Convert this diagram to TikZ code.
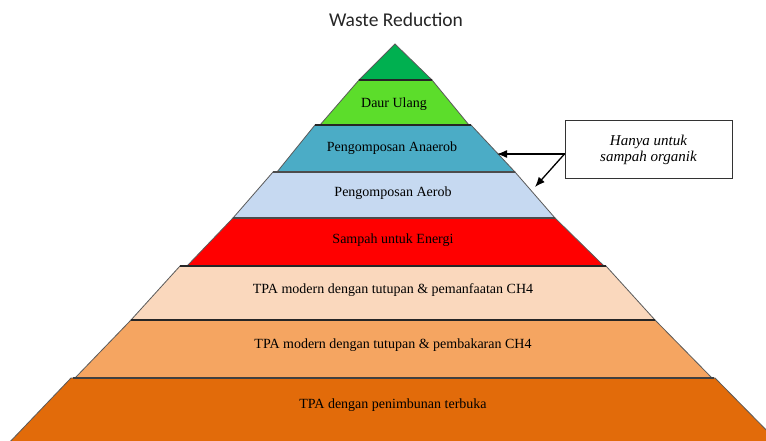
\documentclass[tikz,border=0pt]{standalone}
\usepackage{fontspec}
\setmainfont{Liberation Serif}
\newfontfamily\titlefont{Carlito}
\usetikzlibrary{arrows.meta}

\definecolor{tipgreen}{HTML}{00B050}
\definecolor{limegreen}{HTML}{5CDD2B}
\definecolor{aquablue}{HTML}{4BACC6}
\definecolor{paleblue}{HTML}{C6D9F1}
\definecolor{pureRed}{HTML}{FF0000}
\definecolor{peach}{HTML}{FAD8BD}
\definecolor{lightorange}{HTML}{F5A561}
\definecolor{darkorange}{HTML}{E26B0A}
\definecolor{edgegray}{HTML}{5A5A5A}

\tikzset{
  tier/.style={draw=edgegray, line width=0.8pt, line join=miter},
  sep/.style={draw=black!85, line width=1.1pt},
  lbl/.style={font=\fontsize{14}{16}\selectfont, text=black, inner sep=0pt},
  callout/.style={draw=black!80, line width=1pt, fill=white, align=center,
    minimum width=167pt, minimum height=58pt, inner sep=0pt,
    font=\fontsize{15}{15.5}\selectfont\itshape},
  pointer/.style={-{Latex[length=10pt,width=8pt]}, line width=1.3pt, draw=black}
}

\begin{document}
\begin{tikzpicture}[x=1pt, y=-1pt]
  \useasboundingbox (0,0) rectangle (766,441);
  \clip (0,0) rectangle (766,441);
  \fill[white] (0,0) rectangle (766,441);

  % heading
  \node[font=\titlefont\fontsize{19.5}{22}\selectfont, text=black!85] (title) at (396,20) {Waste Reduction};

  % pyramid tiers, top to bottom
  \filldraw[tier, fill=tipgreen]    (395,44) -- (432,80) -- (359,80) -- cycle;
  \filldraw[tier, fill=limegreen]   (359,80) -- (432,80) -- (469,125) -- (320,125) -- cycle;
  \filldraw[tier, fill=aquablue]    (315,125) -- (471,125) -- (515,172) -- (277,172) -- cycle;
  \filldraw[tier, fill=paleblue]    (273,172) -- (515,172) -- (555,218) -- (233,218) -- cycle;
  \filldraw[tier, fill=pureRed]     (233,218) -- (555,218) -- (604,266) -- (187,266) -- cycle;
  \filldraw[tier, fill=peach]       (180,266) -- (606,266) -- (655,320) -- (131,320) -- cycle;
  \filldraw[tier, fill=lightorange] (131,320) -- (655,320) -- (712,378) -- (75,378) -- cycle;
  \filldraw[tier, fill=darkorange]  (71,378) -- (715,378) -- (782,446) -- (6,446) -- cycle;

  % dividing lines between tiers
  \draw[sep] (359,80) -- (432,80);
  \draw[sep] (315,125) -- (471,125);
  \draw[sep, draw=black!70] (273,172) -- (515,172);
  \draw[sep, draw=black!70] (233,218) -- (555,218);
  \draw[sep] (180,266) -- (606,266);
  \draw[sep] (131,320) -- (655,320);
  \draw[sep, draw=black!75, line width=2pt] (73,378) -- (714,378);

  % tier labels
  \node[lbl] (daur)     at (394,104) {Daur Ulang};
  \node[lbl] (anaerob)  at (392,148) {Pengomposan Anaerob};
  \node[lbl] (aerob)    at (393,193) {Pengomposan Aerob};
  \node[lbl] (energi)   at (393,240) {Sampah untuk Energi};
  \node[lbl] (manfaat)  at (393,290) {TPA modern dengan tutupan \& pemanfaatan CH4};
  \node[lbl] (bakar)    at (393,345) {TPA modern dengan tutupan \& pembakaran CH4};
  \node[lbl] (terbuka)  at (393,405) {TPA dengan penimbunan terbuka};

  % note with pointers to the composting tiers
  \node[callout] (note) at (648.5,150) {Hanya untuk\\sampah organik};
  \coordinate (tipA) at (497,154);
  \coordinate (tipB) at (535,187);
  \draw[pointer] ([yshift=-4pt]note.west) -- (tipA);
  \draw[pointer] ([yshift=-4pt]note.west) -- (tipB);
\end{tikzpicture}
\end{document}
